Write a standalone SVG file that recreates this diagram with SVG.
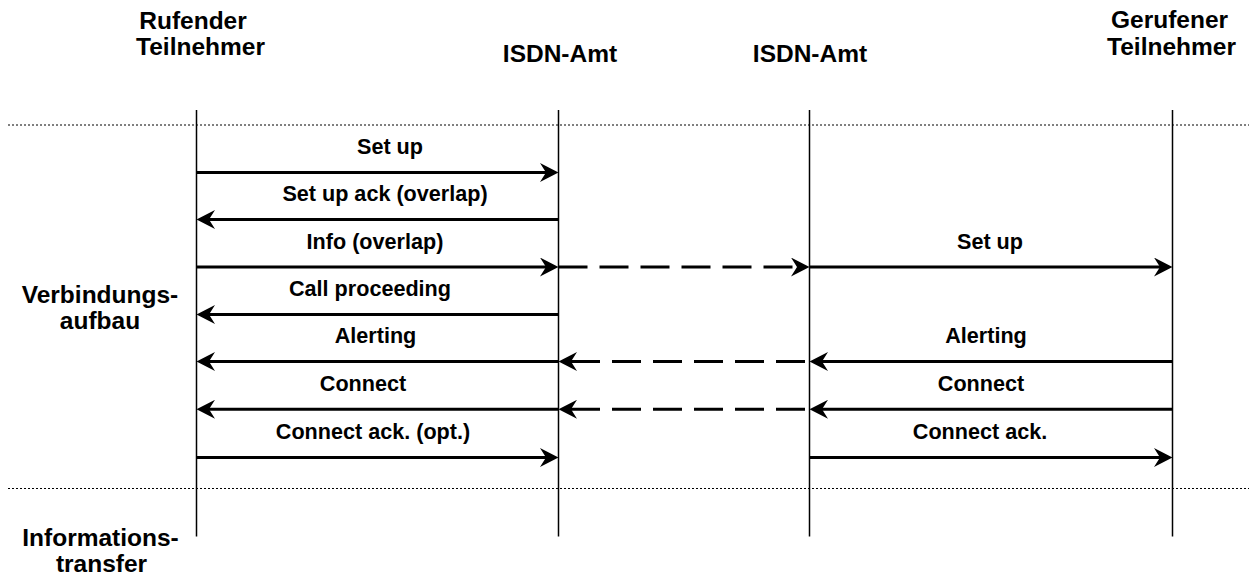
<svg xmlns="http://www.w3.org/2000/svg" width="1251" height="578" viewBox="0 0 1251 578">
  <style>
    .hdr { font-family: "Liberation Sans", Arial, sans-serif; font-weight: bold; font-size: 24.5px; fill: #000; text-anchor: middle; }
    .lbl { font-family: "Liberation Sans", Arial, sans-serif; font-weight: bold; font-size: 21.6px; fill: #000; text-anchor: middle; }
    .life { stroke: #000; stroke-width: 1.5; fill: none; }
    .sep { stroke: #000; stroke-width: 1; stroke-dasharray: 2 2; fill: none; }
    .msg { stroke: #000; stroke-width: 3; fill: none; marker-end: url(#arrow); }
    .dash { stroke-dasharray: 29 12; }
  </style>
  <defs>
    <marker id="arrow" markerUnits="userSpaceOnUse" viewBox="0 0 19 19" markerWidth="19" markerHeight="19" refX="6" refY="9.5" orient="auto">
      <path d="M18.5,9.5 L0,0 L6,9.5 L0,19 Z" fill="#000"/>
    </marker>
  </defs>
  <rect width="1251" height="578" fill="#fff"/>

  <g id="separators">
    <line class="sep" x1="8" y1="125" x2="1249" y2="125"/>
    <line class="sep" x1="8" y1="488.5" x2="1249" y2="488.5"/>
  </g>

  <g id="phase-verbindungsaufbau">
    <text class="hdr" x="100" y="303">Verbindungs-</text>
    <text class="hdr" x="100" y="329">aufbau</text>
  </g>
  <g id="phase-informationstransfer">
    <text class="hdr" x="100.5" y="546">Informations-</text>
    <text class="hdr" x="101.5" y="571.5">transfer</text>
  </g>

  <g id="rufender-teilnehmer">
    <text class="hdr" x="193" y="28.8">Rufender</text>
    <text class="hdr" x="200.5" y="54.5">Teilnehmer</text>
    <line class="life" x1="196.5" y1="110" x2="196.5" y2="536.5"/>
  </g>
  <g id="isdn-amt-1">
    <text class="hdr" x="560" y="62">ISDN-Amt</text>
    <line class="life" x1="558.5" y1="110" x2="558.5" y2="536.5"/>
  </g>
  <g id="isdn-amt-2">
    <text class="hdr" x="810" y="62">ISDN-Amt</text>
    <line class="life" x1="809.5" y1="110" x2="809.5" y2="536.5"/>
  </g>
  <g id="gerufener-teilnehmer">
    <text class="hdr" x="1169.5" y="28">Gerufener</text>
    <text class="hdr" x="1171.5" y="54.5">Teilnehmer</text>
    <line class="life" x1="1172.5" y1="110" x2="1172.5" y2="536.5"/>
  </g>

  <g id="connectors">
    <!-- left segment -->
    <line class="msg" x1="196.5" y1="172.5" x2="546" y2="172.5"/>
    <line class="msg" x1="558.5" y1="219.5" x2="209" y2="219.5"/>
    <line class="msg" x1="196.5" y1="267" x2="546" y2="267"/>
    <line class="msg" x1="558.5" y1="314.5" x2="209" y2="314.5"/>
    <line class="msg" x1="558.5" y1="361.5" x2="209" y2="361.5"/>
    <line class="msg" x1="558.5" y1="409.3" x2="209" y2="409.3"/>
    <line class="msg" x1="196.5" y1="457.5" x2="546" y2="457.5"/>
    <!-- middle dashed -->
    <line class="msg dash" x1="558.5" y1="267" x2="797" y2="267"/>
    <line class="msg dash" x1="805" y1="361.5" x2="571" y2="361.5"/>
    <line class="msg dash" x1="805" y1="409.3" x2="571" y2="409.3"/>
    <!-- right segment -->
    <line class="msg" x1="809.5" y1="267" x2="1160" y2="267"/>
    <line class="msg" x1="1172.5" y1="361.5" x2="822" y2="361.5"/>
    <line class="msg" x1="1172.5" y1="409.3" x2="822" y2="409.3"/>
    <line class="msg" x1="809.5" y1="457.5" x2="1160" y2="457.5"/>
  </g>

  <g id="labels">
    <text class="lbl" x="390" y="154">Set up</text>
    <text class="lbl" x="385" y="201">Set up ack (overlap)</text>
    <text class="lbl" x="375" y="248.5">Info (overlap)</text>
    <text class="lbl" x="370" y="296">Call proceeding</text>
    <text class="lbl" x="375.5" y="343.3">Alerting</text>
    <text class="lbl" x="363" y="391">Connect</text>
    <text class="lbl" x="373" y="439">Connect ack. (opt.)</text>
    <text class="lbl" x="990" y="248.5">Set up</text>
    <text class="lbl" x="986" y="343.3">Alerting</text>
    <text class="lbl" x="981" y="391">Connect</text>
    <text class="lbl" x="980" y="439">Connect ack.</text>
  </g>
</svg>
